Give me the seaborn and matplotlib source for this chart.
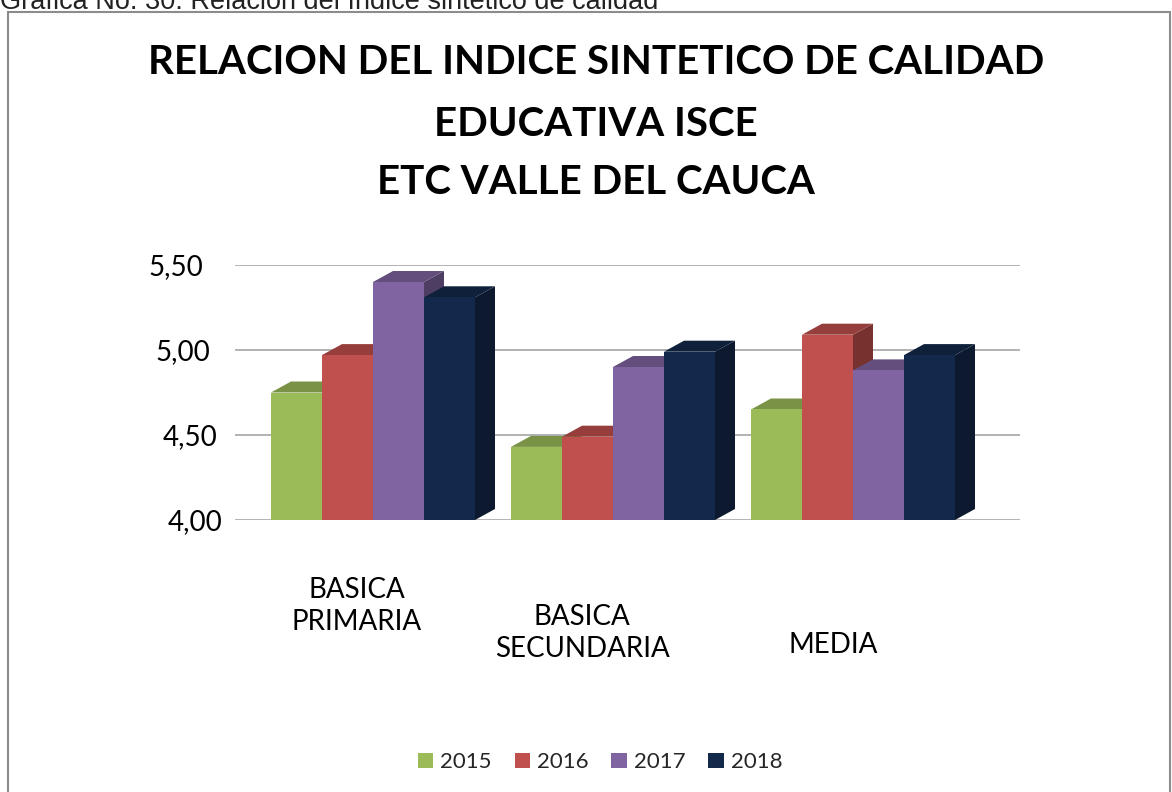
import numpy as np
import pandas as pd
import matplotlib
matplotlib.use("Agg")
import matplotlib.pyplot as plt
import seaborn as sns
from matplotlib.patches import Polygon, Rectangle
import matplotlib.colors as mcolors

# ---------------- data ----------------
categories = ["BASICA\nPRIMARIA", "BASICA\nSECUNDARIA", "MEDIA"]
years = ["2015", "2016", "2017", "2018"]
v2015 = [4.75, 4.43, 4.65]
v2016 = [4.97, 4.49, 5.09]
v2017 = [5.40, 4.90, 4.88]
v2018 = [5.31, 4.99, 4.97]
colors = ["#9BBB59", "#C0504D", "#8064A2", "#13294B"]
yticks = [4.0, 4.5, 5.0, 5.5]
ytick_labels = ["4,00", "4,50", "5,00", "5,50"]
title_lines = ["RELACION DEL INDICE SINTETICO DE CALIDAD",
               "EDUCATIVA ISCE",
               "ETC VALLE DEL CAUCA"]
caption = "Gráfica No. 30: Relación del índice sintético de calidad"

df = pd.DataFrame({
    "cat": categories * 4,
    "year": np.repeat(years, len(categories)),
    "val": v2015 + v2016 + v2017 + v2018,
})

sns.set_theme(style="white")
plt.rcParams['font.family'] = ['Lato', 'DejaVu Sans']

W, H = 1172, 792
fig = plt.figure(figsize=(W / 100, H / 100), dpi=100)
fig.patch.set_facecolor("white")

ax = fig.add_axes([235 / W, 1 - 520 / H, 785 / W, 255 / H])
sns.barplot(data=df, x="cat", y="val", hue="year", hue_order=years,
            palette=colors, width=0.85, saturation=1, errorbar=None,
            ax=ax, linewidth=0)

xlim = (-0.575, -0.575 + 785 / 240)
ylim = (4.0, 5.5)
ax.set_xlim(*xlim)
ax.set_ylim(*ylim)

handles, labels = ax.get_legend_handles_labels()
if ax.get_legend() is not None:
    ax.get_legend().remove()

# ---- pseudo 3D depth faces ----
dx_px, dy_px = 20, 11
dxd = dx_px * (xlim[1] - xlim[0]) / 785
dyd = dy_px * (ylim[1] - ylim[0]) / 255

bars = sorted([p for p in ax.patches if p.get_width() > 0], key=lambda p: p.get_x())
for k, p in enumerate(bars):
    x0 = p.get_x()
    x1 = x0 + p.get_width()
    h = p.get_height()
    base = ylim[0]
    col = np.array(mcolors.to_rgb(p.get_facecolor()))
    top_col = col * 0.78
    side_col = col * 0.62
    z = 3 + 3 * k
    side = Polygon([(x1, base), (x1 + dxd, base + dyd), (x1 + dxd, h + dyd), (x1, h)],
                   closed=True, facecolor=side_col, edgecolor="none", zorder=z, clip_on=False)
    top = Polygon([(x0, h), (x1, h), (x1 + dxd, h + dyd), (x0 + dxd, h + dyd)],
                  closed=True, facecolor=top_col, edgecolor="none", zorder=z + 1, clip_on=False)
    ax.add_patch(side)
    ax.add_patch(top)
    p.set_zorder(z + 2)

# axes styling
ax.set_yticks(yticks)
ax.set_yticklabels(ytick_labels)
ax.tick_params(axis='y', length=0, labelsize=20, labelcolor="black")
# perspective-like shift of the value labels (lower ones sit further right)
pads = {4.0: 9, 4.5: 13, 5.0: 18, 5.5: 23}
for t, v in zip(ax.yaxis.get_major_ticks(), yticks):
    t.set_pad(pads[v])
ax.set_xticks([])
ax.set_xlabel("")
ax.set_ylabel("")
for s in ax.spines.values():
    s.set_visible(False)
ax.set_axisbelow(True)
ax.yaxis.grid(True, color="#A6A6A6", linewidth=1.2)
ax.patch.set_alpha(0)

# category labels under the groups (perspective-like drop)
label_offsets = [(-16, -86), (-31, -113), (-20, -125)]
for i, (cat, (ox, oy)) in enumerate(zip(categories, label_offsets)):
    ax.annotate(cat, xy=(i, ylim[0]), xycoords="data",
                xytext=(ox * 0.72, oy * 0.72), textcoords="offset points",
                ha="center", va="center", fontsize=20, color="black",
                linespacing=1.25, annotation_clip=False)

# title
title_y = [63, 125, 182]
for line, yy in zip(title_lines, title_y):
    fig.text(596 / W, 1 - yy / H, line, ha="center", va="center",
             fontsize=29, fontweight="bold", color="black")

# caption (cut at top)
fig.text(0.0, 1 - 9 / H, caption, ha="left", va="baseline",
         fontsize=19.5, color="#222222", family=["Liberation Sans", "DejaVu Sans"])

# chart frame
fig.patches.append(Rectangle((8 / W, -0.01), (1170 - 8) / W, 1 - 12 / H + 0.01,
                             transform=fig.transFigure, fill=False,
                             edgecolor="#8C8C8C", linewidth=1.5))

# legend
fig.legend(handles, labels, loc="center", bbox_to_anchor=(600 / W, 1 - 762 / H),
           ncol=4, frameon=False, fontsize=16, handlelength=0.68, handleheight=0.68,
           handletextpad=0.32, columnspacing=1.04)

fig.savefig("out.png", dpi=100, facecolor="white")
